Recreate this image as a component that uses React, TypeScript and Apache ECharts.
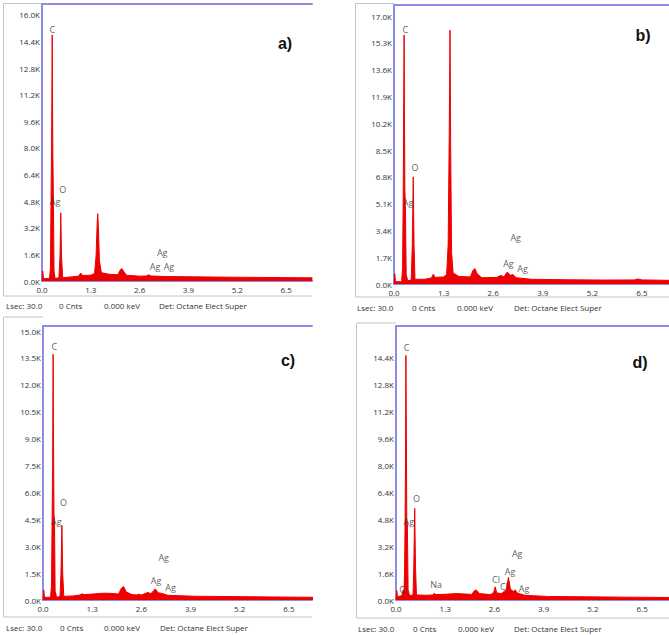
import React, { useEffect, useRef } from "react";
import * as echarts from "echarts";

// ---- spectra: [energy keV, counts] ----
const spectrumA: number[][] = [
  [0.0, 0], [0.02, 600], [0.04, 150], [0.2, 150], [0.225, 800], [0.24, 4700], [0.255, 8000],
  [0.265, 12000], [0.272, 14800], [0.28, 11000], [0.29, 7500], [0.305, 4500], [0.32, 600],
  [0.35, 150], [0.45, 200], [0.48, 1500], [0.5, 4100], [0.52, 1500], [0.55, 200], [0.8, 250],
  [0.98, 300], [1.03, 480], [1.08, 330], [1.3, 350], [1.4, 450], [1.44, 1500], [1.47, 3500],
  [1.485, 4050], [1.5, 3300], [1.53, 1200], [1.58, 500], [1.8, 400], [2.02, 380], [2.08, 650],
  [2.13, 750], [2.18, 550], [2.25, 350], [2.6, 290], [2.78, 300], [2.84, 380], [2.9, 300],
  [3.3, 270], [4.0, 250], [5.0, 230], [6.0, 210], [7.2, 190],
];
const spectrumB: number[][] = [
  [0.0, 0], [0.02, 650], [0.04, 150], [0.2, 150], [0.225, 1000], [0.24, 5000], [0.25, 9000],
  [0.258, 13000], [0.265, 15800], [0.272, 12000], [0.285, 6000], [0.3, 4800], [0.32, 600],
  [0.36, 200], [0.45, 250], [0.48, 2500], [0.505, 6800], [0.525, 2500], [0.55, 300], [0.8, 300],
  [0.98, 380], [1.03, 620], [1.08, 420], [1.3, 450], [1.38, 600], [1.42, 2500], [1.45, 10000],
  [1.468, 16100], [1.485, 9000], [1.51, 2000], [1.55, 700], [1.7, 480], [2.0, 450], [2.07, 850],
  [2.12, 980], [2.18, 650], [2.3, 400], [2.7, 420], [2.8, 550], [2.88, 450], [2.97, 760],
  [3.05, 550], [3.12, 600], [3.2, 400], [3.6, 300], [4.5, 270], [5.5, 250], [6.3, 260],
  [6.4, 320], [6.5, 260], [7.25, 230],
];
const spectrumC: number[][] = [
  [0.0, 0], [0.02, 550], [0.04, 150], [0.2, 150], [0.225, 800], [0.24, 4300], [0.255, 7500],
  [0.262, 11000], [0.268, 13700], [0.275, 10000], [0.29, 4800], [0.305, 4300], [0.32, 500],
  [0.36, 150], [0.45, 200], [0.475, 1500], [0.5, 4150], [0.52, 1500], [0.55, 200], [0.8, 230],
  [0.98, 280], [1.03, 350], [1.08, 300], [1.3, 330], [1.6, 380], [1.8, 370], [2.0, 330],
  [2.07, 650], [2.13, 750], [2.2, 450], [2.35, 300], [2.48, 280], [2.52, 320], [2.6, 280],
  [2.72, 380], [2.78, 420], [2.85, 350], [2.97, 620], [3.04, 400], [3.12, 380], [3.3, 260],
  [4.0, 210], [5.0, 190], [6.0, 170], [7.2, 150],
];
const spectrumD: number[][] = [
  [0.0, 0], [0.02, 550], [0.04, 200], [0.15, 250], [0.19, 600], [0.21, 450], [0.225, 1500],
  [0.24, 4600], [0.25, 8000], [0.257, 12000], [0.262, 14500], [0.27, 11000], [0.285, 4700],
  [0.3, 4500], [0.32, 600], [0.36, 250], [0.45, 300], [0.47, 2000], [0.494, 5430], [0.515, 2000],
  [0.54, 300], [0.8, 280], [0.98, 300], [1.01, 400], [1.05, 320], [1.3, 340], [1.6, 380],
  [1.8, 360], [2.0, 330], [2.07, 550], [2.12, 600], [2.2, 380], [2.5, 320], [2.58, 450],
  [2.62, 780], [2.66, 420], [2.78, 380], [2.86, 500], [2.92, 650], [2.97, 1350], [3.02, 650],
  [3.1, 500], [3.15, 600], [3.2, 420], [3.4, 280], [4.0, 210], [5.0, 190], [6.0, 170], [7.25, 150],
];

// ---- peak labels: [energy keV, counts, element] ----
const peaksA: (number | string)[][] = [
  [0.274, 15100, "C"], [0.55, 5530, "O"], [0.35, 4770, "Ag"],
  [3.2, 1700, "Ag"], [3.01, 860, "Ag"], [3.38, 860, "Ag"],
];
const peaksB: (number | string)[][] = [
  [0.3, 16150, "C"], [0.55, 7420, "O"], [0.367, 5200, "Ag"],
  [3.19, 2940, "Ag"], [3.0, 1330, "Ag"], [3.37, 1010, "Ag"],
];
const peaksC: (number | string)[][] = [
  [0.3, 14160, "C"], [0.545, 5430, "O"], [0.35, 4370, "Ag"],
  [3.19, 2380, "Ag"], [2.99, 1060, "Ag"], [3.37, 690, "Ag"],
];
const peaksD: (number | string)[][] = [
  [0.28, 14970, "C"], [0.54, 5990, "O"], [0.34, 4640, "Ag"], [0.19, 650, "Cl"],
  [1.06, 890, "Na"], [2.64, 1190, "Cl"], [2.85, 790, "Cl"], [3.01, 1680, "Ag"],
  [3.2, 2770, "Ag"], [3.38, 690, "Ag"],
];

const panelTags = ["a)", "b)", "c)", "d)"];
const footerTexts = ["Lsec: 30.0", "0 Cnts", "0.000 keV", "Det: Octane Elect Super"];
const xInterval = 1.3;
const yIntervals = [1600, 1700, 1500, 1600];
const yMaxes = [16660, 17700, 15280, 16240];
const yLabelLimit = [16000, 17000, 15000, 14400];
const xMaxes = [7.19, 7.21, 7.11, 7.21];

const spectra = [spectrumA, spectrumB, spectrumC, spectrumD];
const peaks = [peaksA, peaksB, peaksC, peaksD];

// layout
const grids = [
  { left: 42, top: 4, width: 270, height: 277 },
  { left: 394, top: 5, width: 275, height: 279 },
  { left: 43, top: 326, width: 269, height: 274 },
  { left: 396, top: 326, width: 273, height: 274 },
];
const boxes = [
  { x: 3.5, top: 3.5, bottom: 296, right: 312 },
  { x: 355.5, top: 3.5, bottom: 297, right: 669 },
  { x: 3.5, top: 317, bottom: 617, right: 312 },
  { x: 356.5, top: 323, bottom: 618, right: 669 },
];
const footerY = [305, 307, 627, 628];
const footerX = [
  [6, 59, 104, 159],
  [357, 412, 457, 514],
  [6, 60, 104, 160],
  [358, 413, 458, 514],
];
const tagPos = [
  [285, 43],
  [643, 35],
  [288, 360],
  [640, 362],
];

const BLUE = "#8c8ce6";
const RED = "#ee0000";
const FONT = "Open Sans";

export default function App() {
  const ref = useRef<HTMLDivElement>(null);
  useEffect(() => {
    if (!ref.current) return;
    const chart = echarts.init(ref.current, null, { renderer: "svg" });

    const xAxis: any[] = [];
    const yAxis: any[] = [];
    const series: any[] = [];
    const graphic: any[] = [];

    grids.forEach((g, i) => {
      xAxis.push({
        type: "value",
        gridIndex: i,
        min: 0,
        max: xMaxes[i],
        interval: xInterval,
        axisLine: { show: true, lineStyle: { color: BLUE, width: 2 } },
        axisTick: { show: false },
        splitLine: { show: false },
        axisLabel: {
          showMaxLabel: false,
          fontSize: 8,
          fontFamily: FONT,
          color: "#333",
          margin: 4,
          formatter: (v: number) => v.toFixed(1),
        },
      });
      xAxis.push({
        type: "value",
        gridIndex: i,
        position: "top",
        min: 0,
        max: xMaxes[i],
        axisLine: { show: true, onZero: false, lineStyle: { color: BLUE, width: 2 } },
        axisTick: { show: false },
        axisLabel: { show: false },
        splitLine: { show: false },
      });
      yAxis.push({
        type: "value",
        gridIndex: i,
        min: 0,
        max: yMaxes[i],
        interval: yIntervals[i],
        axisLine: { show: true, lineStyle: { color: BLUE, width: 2 } },
        axisTick: { show: false },
        splitLine: { show: false },
        axisLabel: {
          showMaxLabel: false,
          fontSize: 8,
          fontFamily: FONT,
          color: "#333",
          margin: 2,
          formatter: (v: number) => (v > yLabelLimit[i] + 1 ? "" : (v / 1000).toFixed(1) + "K"),
        },
      });
      series.push({
        type: "line",
        xAxisIndex: i * 2,
        yAxisIndex: i,
        data: spectra[i],
        showSymbol: false,
        symbol: "none",
        lineStyle: { color: RED, width: 1 },
        areaStyle: { color: RED, opacity: 1 },
        z: 3,
      });
      series.push({
        type: "scatter",
        xAxisIndex: i * 2,
        yAxisIndex: i,
        data: peaks[i].map((p) => ({ value: [p[0], p[1]], name: p[2] })),
        symbolSize: 1,
        itemStyle: { color: "rgba(0,0,0,0)" },
        label: {
          show: true,
          position: "inside",
          formatter: (p: any) => p.name,
          fontSize: 9,
          fontFamily: FONT,
          color: "#333",
        },
        z: 5,
      });

      const b = boxes[i];
      const lineStyle = { stroke: "#c4c4c4", lineWidth: 1 };
      graphic.push({ type: "line", shape: { x1: b.x, y1: b.top, x2: b.x, y2: b.bottom }, style: lineStyle, silent: true });
      graphic.push({ type: "line", shape: { x1: b.x, y1: b.top, x2: g.left, y2: b.top }, style: lineStyle, silent: true });
      graphic.push({ type: "line", shape: { x1: b.x, y1: b.bottom, x2: b.right, y2: b.bottom }, style: lineStyle, silent: true });

      footerTexts.forEach((t, k) => {
        graphic.push({
          type: "text",
          x: footerX[i][k],
          y: footerY[i],
          silent: true,
          style: { text: t, fill: "#333", font: `8px "${FONT}"`, textAlign: "left", textVerticalAlign: "middle" },
        });
      });
      graphic.push({
        type: "text",
        x: tagPos[i][0],
        y: tagPos[i][1],
        silent: true,
        z: 10,
        style: {
          text: panelTags[i],
          fill: "#111",
          font: 'bold 16px "Liberation Sans"',
          textAlign: "center",
          textVerticalAlign: "middle",
        },
      });
    });

    chart.setOption({
      animation: false,
      backgroundColor: "#ffffff",
      grid: grids.map((g) => ({ ...g, containLabel: false })),
      xAxis,
      yAxis,
      series,
      graphic,
    });
    return () => chart.dispose();
  }, []);

  return (
    <div
      ref={ref}
      style={{ position: "absolute", left: 0, top: 0, width: 669, height: 635, background: "#fff" }}
    />
  );
}
